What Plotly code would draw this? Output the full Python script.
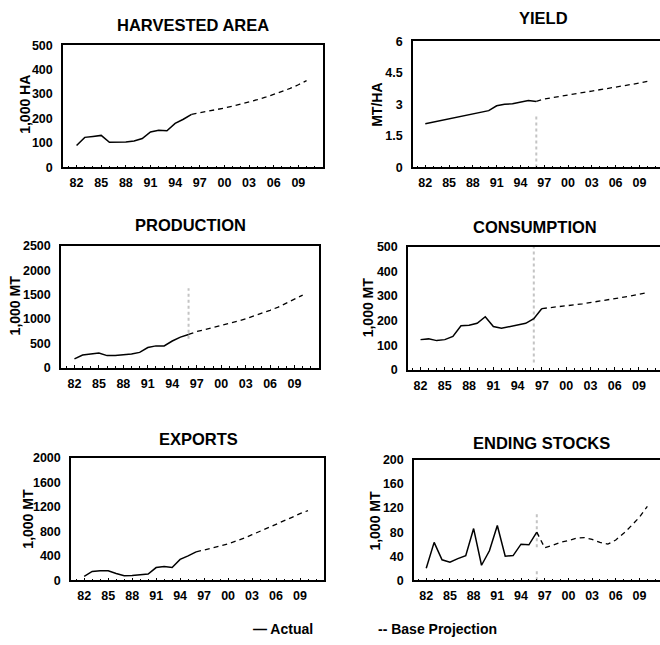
import plotly.graph_objects as go

W, H = 660, 645

years = list(range(1982, 2011))
tick_years = list(range(1982, 2011, 3))
tick_labels = ["82", "85", "88", "91", "94", "97", "00", "03", "06", "09"]

harvested_area = [90, 123, 127, 131, 103, 102, 104, 108, 118, 145, 152, 150, 180, 197, 217,
                  223, 229, 236, 243, 251, 259, 268, 277, 287, 298, 310, 323, 338, 355]
yield_mt_ha = [2.08, 2.16, 2.24, 2.31, 2.39, 2.46, 2.54, 2.61, 2.70, 2.93, 3.00, 3.03, 3.10, 3.18, 3.14,
               3.25, 3.32, 3.39, 3.45, 3.51, 3.57, 3.63, 3.69, 3.75, 3.81, 3.88, 3.94, 4.01, 4.09]
production = [186, 266, 286, 306, 253, 253, 273, 286, 319, 419, 452, 452, 552, 632, 685,
              745, 785, 825, 865, 910, 955, 1005, 1060, 1120, 1180, 1245, 1325, 1410, 1490]
consumption = [123, 126, 119, 123, 136, 179, 181, 189, 216, 176, 169, 176, 181, 189, 208, 249,
               252, 256, 260, 264, 268, 273, 278, 283, 288, 294, 300, 307, 314]
exports = [64, 144, 155, 155, 112, 75, 80, 91, 101, 208, 224, 208, 341, 400, 464,
           500, 530, 560, 595, 640, 690, 745, 800, 855, 910, 970, 1030, 1090, 1140]
ending_stocks = [20, 63, 34, 30, 36, 41, 86, 25, 49, 91, 40, 41, 60, 59, 80,
                 54, 58, 63, 66, 70, 71, 68, 63, 60, 67, 78, 91, 105, 123]

titles = ["HARVESTED AREA", "YIELD", "PRODUCTION", "CONSUMPTION", "EXPORTS", "ENDING STOCKS"]
units = ["1,000 HA", "MT/HA", "1,000 MT", "1,000 MT", "1,000 MT", "1,000 MT"]
series = [harvested_area, yield_mt_ha, production, consumption, exports, ending_stocks]
last_actual = [1996, 1996, 1996, 1997, 1996, 1996]
y_max = [500, 6, 2500, 500, 2000, 200]
y_step = [100, 1.5, 500, 100, 400, 40]
y_ticktext = [None, ["0", "1.5", "3", "4.5", "6"], None, None, None, None]

# faint dotted scan marks at the actual/projection boundary (panel, y0, y1)
boundary_year = 1996
boundary_marks = [(1, 0, 2.5), (2, 600, 1630), (3, 30, 500), (5, 55, 110), (5, 0, 20)]

# layout geometry in pixels: (left, right, top, bottom)
boxes = [(63, 323, 39, 164), (413, 660, 35, 164),
         (61, 319, 244, 369), (408, 660, 245, 371),
         (71, 324, 461, 586), (414, 660, 463, 586)]
title_pos = [(193, 18), (543, 11), (190, 223), (535, 225), (198, 442), (541, 446)]
ytitle_pos = [(25, 100), (377, 100), (15, 305), (368, 307), (28, 523), (375, 525)]

FONT = "Liberation Sans, Arial, sans-serif"

fig = go.Figure()
annotations = []
shapes = []

for i in range(6):
    ax = "" if i == 0 else str(i + 1)
    xref, yref = "x" + ax, "y" + ax
    vals = series[i]
    act_x = [y for y in years if y <= last_actual[i]]
    act_y = [v for y, v in zip(years, vals) if y <= last_actual[i]]
    prj_x = [y for y in years if y >= last_actual[i]]
    prj_y = [v for y, v in zip(years, vals) if y >= last_actual[i]]
    fig.add_trace(go.Scatter(x=act_x, y=act_y, mode="lines", xaxis=xref, yaxis=yref,
                             line=dict(color="black", width=1.5), showlegend=False,
                             hoverinfo="skip"))
    fig.add_trace(go.Scatter(x=prj_x, y=prj_y, mode="lines", xaxis=xref, yaxis=yref,
                             line=dict(color="black", width=1.3, dash="5px,4px"),
                             showlegend=False, hoverinfo="skip"))

    l, r, t, b = boxes[i]
    right_col = (i % 2 == 1)
    xrange = [1980.45, 2011.6] if right_col else [1980.35, 2012.0]
    n = int(round(y_max[i] / y_step[i]))
    yvals = [k * y_step[i] for k in range(n + 1)]
    ytext = y_ticktext[i] if y_ticktext[i] else [str(int(v)) for v in yvals]

    fig.layout["xaxis" + ax] = dict(
        domain=[l / W, r / W], range=xrange, anchor=yref,
        showgrid=False, zeroline=False, showline=True, linecolor="black", linewidth=1.5,
        mirror=True, tickmode="array", tickvals=tick_years, ticktext=tick_labels,
        ticks="inside", ticklen=3, tickcolor="black", tickwidth=1,
        minor=dict(ticks="inside", dtick=1, tick0=1982, ticklen=2, tickcolor="black"),
        ticklabelstandoff=3,
        tickfont=dict(family=FONT, size=12.5, color="black", weight="bold"),
        fixedrange=True)
    fig.layout["yaxis" + ax] = dict(
        domain=[1 - b / H, 1 - t / H], range=[0, y_max[i]], anchor=xref,
        showgrid=False, zeroline=False, showline=True, linecolor="black", linewidth=1.5,
        mirror=(not right_col), tickmode="array", tickvals=yvals, ticktext=ytext,
        ticks="", ticklabelstandoff=6,
        tickfont=dict(family=FONT, size=12.5, color="black", weight="bold"),
        fixedrange=True)

    tx, ty = title_pos[i]
    annotations.append(dict(text="<b>" + titles[i] + "</b>", x=tx / W, y=1 - ty / H,
                            xref="paper", yref="paper", showarrow=False,
                            xanchor="center", yanchor="middle",
                            font=dict(family=FONT, size=16.5, color="black")))
    ux, uy = ytitle_pos[i]
    annotations.append(dict(text="<b>" + units[i] + "</b>", x=ux / W, y=1 - uy / H,
                            xref="paper", yref="paper", showarrow=False, textangle=-90,
                            xanchor="center", yanchor="middle",
                            font=dict(family=FONT, size=14, color="black")))

for p, y0, y1 in boundary_marks:
    ax = "" if p == 0 else str(p + 1)
    shapes.append(dict(type="line", xref="x" + ax, yref="y" + ax,
                       x0=boundary_year, x1=boundary_year, y0=y0, y1=y1,
                       line=dict(color="#c4c4c4", width=2, dash="dot"), layer="below"))

annotations.append(dict(text="<b>— Actual</b>", x=283 / W, y=1 - 636 / H, xref="paper",
                        yref="paper", showarrow=False, xanchor="center", yanchor="middle",
                        font=dict(family=FONT, size=14, color="black")))
annotations.append(dict(text="<b>-- Base Projection</b>", x=437 / W, y=1 - 636 / H,
                        xref="paper", yref="paper", showarrow=False, xanchor="center",
                        yanchor="middle", font=dict(family=FONT, size=14, color="black")))

fig.update_layout(width=W, height=H, margin=dict(l=0, r=0, t=0, b=0),
                  paper_bgcolor="white", plot_bgcolor="white",
                  annotations=annotations, shapes=shapes, showlegend=False)

fig.write_html("out.html", config={"displayModeBar": False})
